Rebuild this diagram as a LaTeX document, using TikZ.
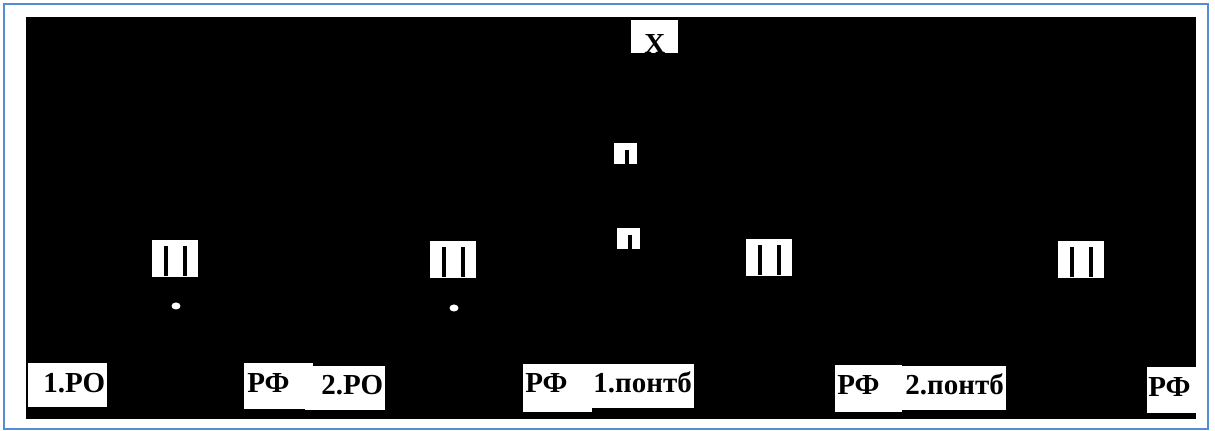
\documentclass[tikz,border=0pt]{standalone}
\usepackage{fontspec}
\setmainfont{Liberation Serif}
\usetikzlibrary{positioning}
\definecolor{framecol}{RGB}{84,141,212}
\tikzset{
  lbl/.style={font=\fontsize{14.5}{17}\selectfont\bfseries, inner sep=0pt, anchor=base west},
  paper/.style={fill=white},
  slot/.style={fill=black}
}

\begin{document}
\begin{tikzpicture}[x=0.5pt, y=-0.5pt]
        \useasboundingbox (0,0) rectangle (1215,431);
        \fill[white] (0,0) rectangle (1215,431);
        \draw[framecol, line width=0.9pt] (4,4) rectangle (1208,429);
        \fill[black] (26,17) rectangle (1196,419);
        % label boxes along the bottom
        \fill[paper] (28,363) rectangle (107,407);
        \fill[paper] (244,363) rectangle (313,409);
        \fill[paper] (305,366) rectangle (385,410);
        \fill[paper] (523,364) rectangle (592,412);
        \fill[paper] (580,364) rectangle (694,408);
        \fill[paper] (835,365) rectangle (902,412);
        \fill[paper] (902,366) rectangle (1006,410);
        \fill[paper] (1147,367) rectangle (1196,413);
        \node[lbl] (ro1)   at (43,393)   {1.РО};
        \node[lbl] (rf1)   at (247,393)  {РФ};
        \node[lbl] (ro2)   at (321,395)  {2.РО};
        \node[lbl] (rf2)   at (525,393)  {РФ};
        \node[lbl] (pont1) at (593,393)  {1.понтб};
        \node[lbl] (rf3)   at (837,395)  {РФ};
        \node[lbl] (pont2) at (905,395)  {2.понтб};
        \node[lbl] (rf4)   at (1148,397) {РФ};
        % top box
        \begin{scope}
          \clip (631,20) rectangle (678,53);
          \fill[paper] (631,20) rectangle (678,53);
          \node[lbl] (xlab) at (644,54) {X};
        \end{scope}
        % double bars
        \foreach \x/\y in {152/240, 430/241, 746/239, 1058/241} {
          \fill[paper] (\x,\y) rectangle ++(46,37);
          \fill[slot] (\x+12,\y+6) rectangle (\x+16,\y+36);
          \fill[slot] (\x+31,\y+6) rectangle (\x+35,\y+36);
        }
        % small notched boxes
        \foreach \x/\y in {614/143, 617/228} {
          \fill[paper] (\x,\y) rectangle ++(23,21);
          \fill[slot] (\x+11,\y+7) rectangle (\x+15,\y+21);
        }
        % dots
        \fill[paper] (176,306) ellipse [x radius=4.5, y radius=3.5];
        \fill[paper] (454,308) ellipse [x radius=4.5, y radius=3.5];
      \end{tikzpicture}
\end{document}
